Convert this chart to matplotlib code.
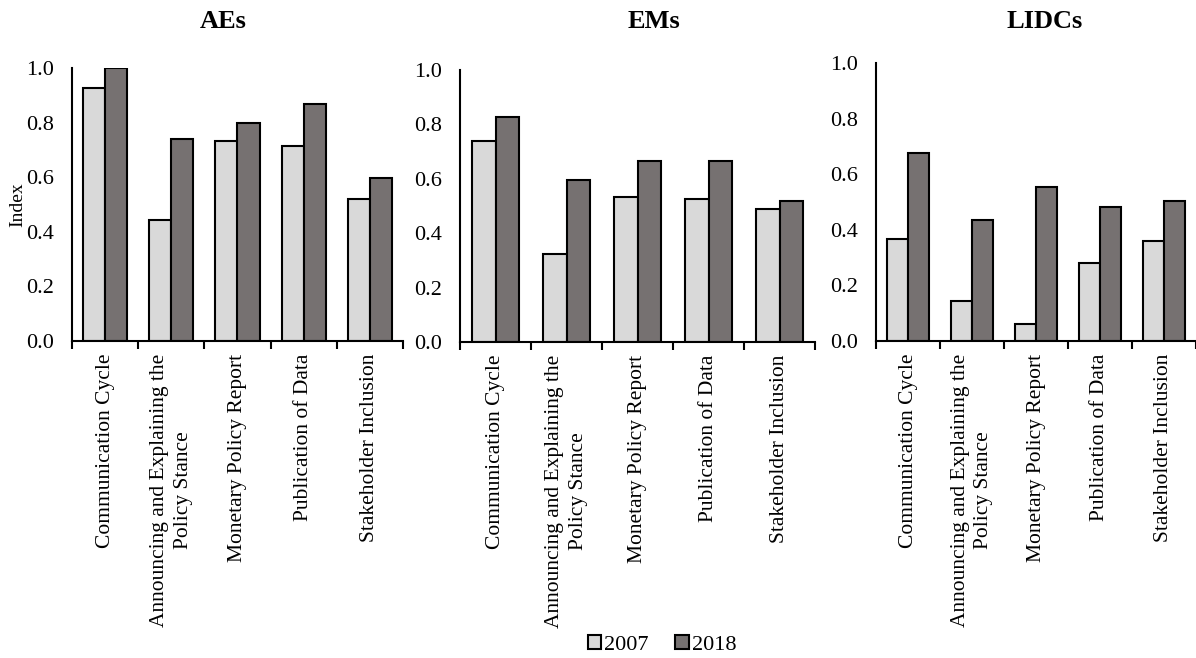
import numpy as np
import matplotlib.pyplot as plt

plt.rcParams['font.family'] = ['Liberation Serif', 'DejaVu Serif']

# Data
categories = ['Communication Cycle',
              'Announcing and Explaining the\nPolicy Stance',
              'Monetary Policy Report',
              'Publication of Data',
              'Stakeholder Inclusion']
groups = ['AEs', 'EMs', 'LIDCs']
vals_2007 = {
    'AEs':   [0.926, 0.443, 0.733, 0.716, 0.520],
    'EMs':   [0.740, 0.325, 0.533, 0.526, 0.489],
    'LIDCs': [0.367, 0.143, 0.061, 0.282, 0.359],
}
vals_2018 = {
    'AEs':   [1.000, 0.740, 0.799, 0.869, 0.596],
    'EMs':   [0.829, 0.594, 0.667, 0.664, 0.519],
    'LIDCs': [0.678, 0.437, 0.555, 0.483, 0.502],
}
years = ['2007', '2018']

c_light = '#D9D9D9'
c_dark = '#767171'

W, H = 1196, 658
fig = plt.figure(figsize=(W / 100, H / 100), dpi=100)

# axes boxes in pixels: left, right, top, bottom
boxes = {
    'AEs':   (72, 403, 68, 341),
    'EMs':   (460, 815, 70, 342),
    'LIDCs': (876, 1196, 63, 341),
}
title_x = {'AEs': 223, 'EMs': 654, 'LIDCs': 1045}

x = np.arange(len(categories))
bw = 1 / 3

for g in groups:
    l, r, t, b = boxes[g]
    ax = fig.add_axes([l / W, 1 - b / H, (r - l) / W, (b - t) / H])
    ax.bar(x - bw / 2, vals_2007[g], bw, color=c_light, edgecolor='black', linewidth=1.5, label=years[0])
    ax.bar(x + bw / 2, vals_2018[g], bw, color=c_dark, edgecolor='black', linewidth=1.5, label=years[1])
    ax.set_xlim(-0.5, len(categories) - 0.5)
    ax.set_ylim(0, 1.0)
    ax.set_yticks(np.arange(0, 1.01, 0.2))
    ax.set_yticklabels([f'{v:.1f}' for v in np.arange(0, 1.01, 0.2)], fontsize=16)
    ax.tick_params(axis='y', length=0, pad=13)
    # category boundaries as major ticks, labels on minor ticks
    ax.set_xticks(np.arange(-0.5, len(categories), 1.0))
    ax.set_xticklabels([])
    ax.set_xticks(x, minor=True)
    ax.set_xticklabels(categories, minor=True, rotation=90, fontsize=15.5,
                       va='top', ha='center', multialignment='center', linespacing=1.35)
    ax.tick_params(axis='x', which='major', length=6, width=1.5, direction='out')
    ax.tick_params(axis='x', which='minor', length=0, pad=9)
    for s in ['top', 'right']:
        ax.spines[s].set_visible(False)
    ax.spines['left'].set_linewidth(1.5)
    ax.spines['bottom'].set_linewidth(1.5)
    fig.text(title_x[g] / W, 1 - 21 / H, g, ha='center', va='center',
             fontsize=19, fontweight='bold')
    if g == 'AEs':
        handles, labels = ax.get_legend_handles_labels()

fig.text(18 / W, 1 - 205 / H, 'Index', rotation=90, ha='center', va='center', fontsize=14)

fig.legend(handles, labels, loc='center', bbox_to_anchor=(662 / W, 1 - 645 / H), ncol=2,
           frameon=False, fontsize=16, handlelength=0.6, handleheight=0.6,
           handletextpad=0.15, columnspacing=1.2)

fig.savefig('out.png', dpi=100)
